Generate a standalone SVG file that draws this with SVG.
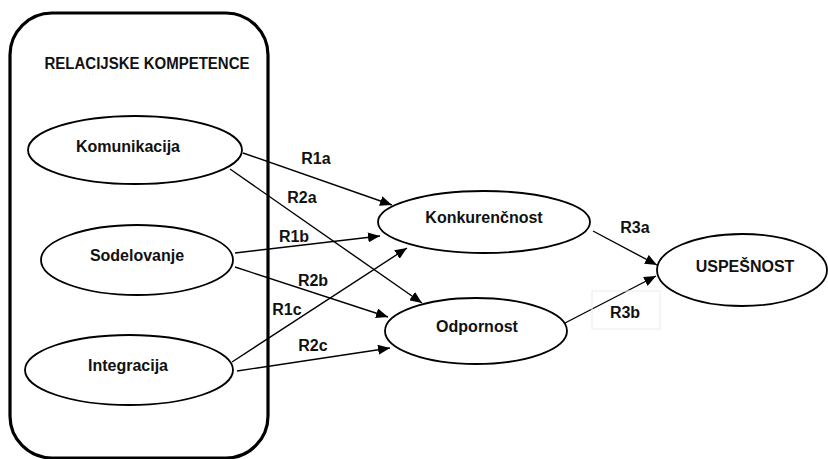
<svg xmlns="http://www.w3.org/2000/svg" width="828" height="459" viewBox="0 0 828 459">
<defs>
<marker id="ah" markerWidth="12" markerHeight="10" refX="12" refY="5" orient="auto" markerUnits="userSpaceOnUse">
<path d="M0,0 L12,5 L0,10 Z" fill="#000"/>
</marker>
<style>
.node{fill:#fff;stroke:#000;stroke-width:1.8}
.t{font-family:"Liberation Sans",Arial,sans-serif;font-weight:bold;font-size:16px;fill:#111;text-anchor:middle;dominant-baseline:central}
.c{stroke:#000;stroke-width:1.4;fill:none;marker-end:url(#ah)}
</style>
</defs>
<rect width="828" height="459" fill="#fff"/>
<g id="group-box">
<rect x="10" y="13" width="258" height="445" rx="42" ry="42" fill="none" stroke="#000" stroke-width="3.2"/>
<text class="t" x="147" y="63" font-size="15" textLength="205" lengthAdjust="spacingAndGlyphs">RELACIJSKE KOMPETENCE</text>
</g>
<g id="connectors">
<line class="c" x1="243" y1="153" x2="392" y2="205"/>
<line class="c" x1="230" y1="169" x2="422" y2="303"/>
<line class="c" x1="235" y1="253" x2="380" y2="236"/>
<line class="c" x1="235" y1="267" x2="388" y2="317"/>
<line class="c" x1="232" y1="362" x2="407" y2="248"/>
<line class="c" x1="237" y1="371" x2="390" y2="348"/>
<line class="c" x1="593" y1="231" x2="657" y2="265"/>
<line class="c" x1="565" y1="323" x2="656" y2="276"/>
<rect x="592" y="291" width="68" height="38" fill="none" stroke="#ececec" stroke-width="1"/>
<text class="t" x="316" y="158">R1a</text>
<text class="t" x="302" y="197">R2a</text>
<text class="t" x="294" y="236">R1b</text>
<text class="t" x="313" y="280">R2b</text>
<text class="t" x="287" y="309">R1c</text>
<text class="t" x="313" y="345">R2c</text>
<text class="t" x="635" y="227">R3a</text>
<text class="t" x="625" y="312">R3b</text>
</g>
<g id="komunikacija">
<ellipse class="node" cx="135" cy="150" rx="107" ry="34"/>
<text class="t" x="128" y="146">Komunikacija</text>
</g>
<g id="sodelovanje">
<ellipse class="node" cx="137" cy="260" rx="96" ry="35"/>
<text class="t" x="137" y="255">Sodelovanje</text>
</g>
<g id="integracija">
<ellipse class="node" cx="129" cy="370" rx="104" ry="35"/>
<text class="t" x="128" y="365">Integracija</text>
</g>
<g id="konkurencnost">
<ellipse class="node" cx="484" cy="222" rx="106" ry="31"/>
<text class="t" x="484" y="217">Konkurenčnost</text>
</g>
<g id="odpornost">
<ellipse class="node" cx="476" cy="331" rx="91" ry="33"/>
<text class="t" x="477" y="326">Odpornost</text>
</g>
<g id="uspesnost">
<ellipse class="node" cx="742" cy="270" rx="85" ry="36"/>
<text class="t" x="745" y="266">USPEŠNOST</text>
</g>
</svg>
